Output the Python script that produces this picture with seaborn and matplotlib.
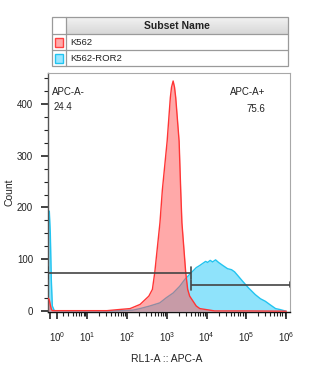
import numpy as np
import pandas as pd
import matplotlib
matplotlib.use("Agg")
import matplotlib.pyplot as plt
import seaborn as sns
from matplotlib.patches import Rectangle
from matplotlib.colors import LinearSegmentedColormap

# ---------------- data ----------------
# near-zero spike region (linear channel values)
k562_spike_x = [-0.28, -0.14, 0.0, 0.14, 0.28, 0.56]
k562_spike_count = [25, 22, 12, 4, 1, 1]
# log10 channel positions and counts
k562_log10 = [0.5, 1.0, 1.5, 1.78, 2.08, 2.33, 2.55, 2.64, 2.70, 2.83, 2.89, 3.01,
              3.09, 3.12, 3.16, 3.195, 3.225, 3.31, 3.35, 3.38, 3.475, 3.525, 3.575,
              3.74, 3.83, 4.08, 4.2, 5.0, 6.0]
k562_count = [1, 1, 1, 3, 5, 13, 29, 42, 75, 171, 234, 328,
              412, 432, 444, 432, 412, 328, 234, 171, 75, 42, 29,
              10, 5, 2, 0.5, 0.5, 0]

ror2_spike_x = [-0.28, -0.14, 0.0, 0.14, 0.28, 0.56]
ror2_spike_count = [190, 193, 150, 60, 10, 1]
ror2_log10 = [0.5, 1.0, 1.575, 1.83, 2.15, 2.33, 2.575, 2.825, 2.99, 3.16, 3.325,
              3.45, 3.575, 3.74, 3.825, 3.9, 3.975, 4.025, 4.09, 4.15, 4.225, 4.3,
              4.41, 4.525, 4.625, 4.7, 4.79, 4.9, 5.05, 5.22, 5.35, 5.475, 5.6,
              5.73, 5.85, 5.99]
ror2_count = [0.5, 0.5, 0.5, 1, 2, 5, 10, 16, 26, 35, 48,
              61, 71, 84, 88, 92, 96, 94, 98, 95, 99, 94,
              88, 82, 80, 76, 68, 58, 45, 32, 24, 19, 12,
              5, 3, 0]

subset_names = ["K562", "K562-ROR2"]
gate_names = ["APC-A-", "APC-A+"]
gate_percents = ["24.4", "75.6"]
gate_split = 3980
gate_neg_level = 74
gate_pos_level = 51
x_min, x_max = -0.28, 1.2e6
y_min, y_max = -1, 460
major_xticks = [1, 10, 100, 1000, 10000, 100000, 1000000]
major_xlabels = ["$\\mathregular{10^{0}}$", "$\\mathregular{10^{1}}$", "$\\mathregular{10^{2}}$",
                 "$\\mathregular{10^{3}}$", "$\\mathregular{10^{4}}$", "$\\mathregular{10^{5}}$",
                 "$\\mathregular{10^{6}}$"]
major_yticks = [0, 100, 200, 300, 400]

# ---------------- style ----------------
sns.set_style("white")
plt.rcParams["font.family"] = ["Liberation Sans", "DejaVu Sans"]
plt.rcParams["mathtext.default"] = "regular"

df_k = pd.DataFrame({"x": k562_spike_x + list(10 ** np.array(k562_log10)),
                     "count": k562_spike_count + k562_count})
df_r = pd.DataFrame({"x": ror2_spike_x + list(10 ** np.array(ror2_log10)),
                     "count": ror2_spike_count + ror2_count})

W, H = 326, 372
fig = plt.figure(figsize=(W / 100, H / 100), dpi=100)
ax = fig.add_axes([48.3 / W, 1 - 311.7 / H, (289.5 - 48.3) / W, (311.7 - 72.7) / H])
ax.set_xscale("asinh", linear_width=2.4)

blue_fill, blue_line = "#8fe3fb", "#22c4f0"
red_fill, red_line = "#ff5555", "#ff3535"

ax.fill_between(df_r["x"], df_r["count"], color=blue_fill, lw=0, zorder=1)
sns.lineplot(data=df_r, x="x", y="count", ax=ax, color=blue_line, lw=1.0,
             estimator=None, sort=True, zorder=2)
ax.fill_between(df_k["x"], df_k["count"], color=red_fill, alpha=0.5, lw=0, zorder=3)
sns.lineplot(data=df_k, x="x", y="count", ax=ax, color=red_line, lw=1.0,
             estimator=None, sort=True, zorder=4)

# gates
gc = "#444444"
ax.plot([x_min, gate_split], [gate_neg_level, gate_neg_level], color=gc, lw=1.2, zorder=6, solid_capstyle="butt")
ax.plot([gate_split, gate_split], [gate_neg_level - 11, gate_neg_level + 11], color=gc, lw=1.2, zorder=6)
ax.plot([x_min, x_min], [gate_neg_level - 11, gate_neg_level + 11], color=gc, lw=1.2, zorder=6)
ax.plot([gate_split, x_max], [gate_pos_level, gate_pos_level], color=gc, lw=1.2, zorder=6, solid_capstyle="butt")
ax.plot([gate_split, gate_split], [gate_pos_level - 10, gate_pos_level + 10], color=gc, lw=1.2, zorder=6)
ax.plot([x_max, x_max], [gate_pos_level - 5, gate_pos_level + 5], color=gc, lw=1.2, zorder=6)

ax.set_xlim(x_min, x_max)
ax.set_ylim(y_min, y_max)

ax.set_xticks([0] + major_xticks)
ax.set_xticklabels([""] + major_xlabels)
minor_x = [m * 10 ** k for k in range(0, 6) for m in range(2, 10)]
ax.set_xticks(minor_x, minor=True)
ax.set_yticks(major_yticks)
ax.set_yticks([v for v in range(25, 460, 25) if v % 100 != 0], minor=True)

ax.tick_params(bottom=True, left=True, top=False, right=False, which="both")
ax.tick_params(axis="both", which="major", direction="out", length=5, width=1.2,
               color="#222222", labelsize=7, labelcolor="#222222")
ax.tick_params(axis="both", which="minor", direction="out", length=3, width=0.8,
               color="#222222")
ax.tick_params(axis="x", which="major", pad=8)
ax.tick_params(axis="y", which="major", pad=6)

ax.set_xlabel("RL1-A :: APC-A", fontsize=7.5, color="#222222")
ax.set_ylabel("Count", fontsize=7.5, color="#222222")
ax.xaxis.set_label_coords(0.49, -0.175)
ax.yaxis.set_label_coords(-0.14, 0.5)

for side in ["top", "right"]:
    ax.spines[side].set_color("#a8a8a8")
    ax.spines[side].set_linewidth(0.8)
ax.spines["left"].set_color("#555555")
ax.spines["left"].set_linewidth(1.0)
ax.spines["bottom"].set_color("#111111")
ax.spines["bottom"].set_linewidth(1.0)

ax.text(0.017, 0.92, gate_names[0], transform=ax.transAxes, fontsize=7, color="#222222", va="center", ha="left")
ax.text(0.021, 0.855, gate_percents[0], transform=ax.transAxes, fontsize=7, color="#222222", va="center", ha="left")
ax.text(0.9, 0.92, gate_names[1], transform=ax.transAxes, fontsize=7, color="#222222", va="center", ha="right")
ax.text(0.9, 0.85, gate_percents[1], transform=ax.transAxes, fontsize=7, color="#222222", va="center", ha="right")

# ---------------- legend table ----------------
lax = fig.add_axes([0, 0, 1, 1], zorder=5)
lax.patch.set_alpha(0)
cmap = LinearSegmentedColormap.from_list("hdr", ["#f2f2f2", "#d8d8d8"])
lax.imshow(np.linspace(0, 1, 20)[:, None], cmap=cmap, extent=(66, 287.7, 34.3, 17.3),
           origin="upper", aspect="auto", zorder=1)
lax.set_xlim(0, W)
lax.set_ylim(H, 0)
lax.axis("off")
bc = "#9a9a9a"
lax.add_patch(Rectangle((51.7, 17.3), 287.7 - 51.7, 66 - 17.3, fill=False, ec=bc, lw=0.9, zorder=3))
lax.plot([51.7, 287.7], [34.3, 34.3], color=bc, lw=0.9, zorder=3)
lax.plot([51.7, 287.7], [50.2, 50.2], color=bc, lw=0.9, zorder=3)
lax.plot([66, 66], [17.3, 66], color=bc, lw=0.9, zorder=3)
lax.text(177, 26, "Subset Name", fontsize=7.5, fontweight="bold", color="#222222",
         ha="center", va="center", zorder=4)
swatches = [("#ffaaaa", "#ff4040"), ("#9ae6ff", "#22c4f0")]
for i, (name, (fc, ec)) in enumerate(zip(subset_names, swatches)):
    yc = 42.2 + i * 16
    lax.add_patch(Rectangle((54.5, yc - 4.5), 8, 9, fc=fc, ec=ec, lw=1.0, zorder=4))
    lax.text(70, yc, name, fontsize=6.8, color="#222222", ha="left", va="center", zorder=4)

fig.savefig("out.png", dpi=100)
